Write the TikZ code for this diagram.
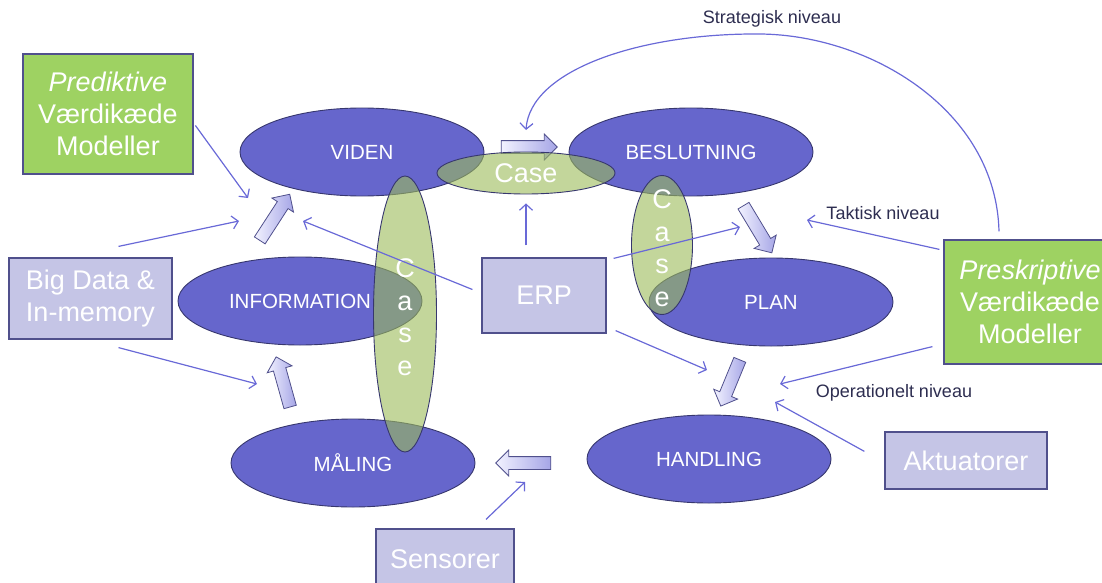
\documentclass[tikz,border=0pt]{standalone}
\usepackage{fontspec}
\setmainfont{Liberation Sans}
\usepackage{tikz}
\usetikzlibrary{positioning,arrows.meta,shapes.geometric,shapes.arrows}

\definecolor{ovalblue}{RGB}{102,102,204}
\definecolor{ovalline}{RGB}{55,55,110}
\definecolor{caseolive}{RGB}{155,187,89}
\definecolor{modelgreen}{RGB}{158,210,98}
\definecolor{boxlila}{RGB}{197,197,230}
\definecolor{boxline}{RGB}{80,80,140}
\definecolor{thinblue}{RGB}{105,105,215}
\definecolor{levelgray}{RGB}{45,45,80}
\definecolor{arrowhead}{RGB}{165,165,230}
\definecolor{arrowtail}{RGB}{242,242,255}

\begin{document}
\begin{tikzpicture}[
		x=1pt,y=-1pt,
		oval/.style={ellipse,draw=ovalline,line width=0.9pt,fill=ovalblue,text=white,
			inner sep=0pt,minimum width=244pt,minimum height=88pt,font=\fontsize{20.5}{24}\selectfont},
		caseoval/.style={ellipse,draw=ovalline,line width=0.9pt,fill=caseolive,fill opacity=0.6,
			text opacity=1,text=white,inner sep=0pt,font=\fontsize{27}{32.5}\selectfont},
		casetext/.style={text=white,align=center,inner sep=0pt,font=\fontsize{27}{32.5}\selectfont},
		modelbox/.style={rectangle,draw=boxline,line width=1.2pt,fill=modelgreen,text=white,
			align=center,inner sep=0pt,font=\fontsize{27}{32}\selectfont},
		databox/.style={rectangle,draw=boxline,line width=1.2pt,fill=boxlila,text=white,
			align=center,inner sep=0pt,font=\fontsize{27}{32}\selectfont},
		blockarrow/.style={single arrow,draw=boxline,line width=0.8pt,inner xsep=0pt,inner ysep=6pt,
			minimum width=25pt,single arrow head extend=6.5pt,single arrow tip angle=90,
			left color=arrowtail,right color=arrowhead},
		thinarrow/.style={thinblue,line width=1.2pt,-{Straight Barb[length=6pt,width=13pt]}},
		level/.style={text=levelgray,font=\fontsize{18}{21}\selectfont}
		]
		
		\useasboundingbox (0,0) rectangle (1102,583);
		\clip (0,0) rectangle (1102,583);
		
		\node[oval] (viden) at (362,152) {VIDEN};
		\node[oval] (beslutning) at (691,152) {BESLUTNING};
		\node[oval] (information) at (300,301) {INFORMATION};
		\node[oval] (plan) at (771,302) {PLAN};
		\node[oval] (maaling) at (353,463) {MÅLING};
		\node[oval] (handling) at (709,459) {HANDLING};
		
		\node[blockarrow,minimum height=56pt] (arrVB) at (526,147) {};
		\node[blockarrow,minimum height=55pt,rotate=57] (arrIV) at (273,220) {};
		\node[blockarrow,minimum height=52pt,rotate=105.6] (arrMI) at (284,385) {};
		\node[blockarrow,minimum height=55pt,rotate=-59] (arrBP) at (756,226.5) {};
		\node[blockarrow,minimum height=50pt,rotate=-112.4] (arrPH) at (731.5,380) {};
		\node[blockarrow,minimum height=55pt,rotate=180] (arrHM) at (526.5,463) {};
		
		\node[
		caseoval,
		minimum width=178pt,
		minimum height=42pt
		]
		(caseTop)
		at (526,173)
		{Case};
		
		\node[
		caseoval,
		minimum width=63pt,
		minimum height=276pt
		]
		(caseLeft)
		at (405,314)
		{};
		
		\node[
		caseoval,
		minimum width=61pt,
		minimum height=139pt
		]
		(caseRight)
		at (662,245)
		{};
		
		\node[casetext] (caseLeftTxt) at (405,317) {C\\a\\s\\e};
		\node[casetext] (caseRightTxt) at (662,248) {C\\a\\s\\e};
		
		\node[
		modelbox,
		minimum width=170pt,
		minimum height=120pt
		]
		(prediktiv)
		at (108,114)
		{\textit{Prediktive}\\Værdikæde\\Modeller};
		
		\node[
		modelbox,
		minimum width=172pt,
		minimum height=124pt
		]
		(preskriptiv)
		at (1030,302)
		{\textit{Preskriptive}\\Værdikæde\\Modeller};
		
		\node[databox,minimum width=163pt,minimum height=81pt] (bigdata) at (90.5,298.5) {Big Data \&\\In-memory};
		\node[databox,minimum width=124pt,minimum height=75pt] (erp) at (544,295.5) {ERP};
		\node[databox,minimum width=138pt,minimum height=61pt] (sensorer) at (445,559.5) {Sensorer};
		\node[databox,minimum width=162pt,minimum height=57pt] (aktuatorer) at (966,460.5) {Aktuatorer};
		
		\coordinate (toViden1) at (248,198);
		\coordinate (toViden2) at (239,221);
		\coordinate (toViden3) at (303,221);
		\coordinate (toInfo) at (257,384);
		\coordinate (toPlan1) at (740,227);
		\coordinate (toPlan2) at (807,220);
		\coordinate (toHand1) at (707,370);
		\coordinate (toHand2) at (780,384);
		\coordinate (toHand3) at (775,402);
		\coordinate (toMaal) at (525,482);
		\coordinate (toStrat) at (526,130);
		
		\draw[thinarrow,shorten <=3pt] (prediktiv.-6) -- (toViden1);
		\draw[thinarrow] ([xshift=28pt,yshift=11pt]bigdata.north) -- (toViden2);
		\draw[thinarrow] ([xshift=28pt,yshift=-8pt]bigdata.south) -- (toInfo);
		\draw[thinarrow] ([xshift=-9pt,yshift=6pt]erp.west) -- (toViden3);
		\draw[thinarrow,shorten <=12pt,shorten >=9pt] ([xshift=-18pt]erp.north) -- (caseTop.south);
		\draw[thinarrow] ([xshift=7pt,yshift=-1pt]erp.north east) -- (toPlan1);
		\draw[thinarrow] ([xshift=9pt,yshift=3pt]erp.south east) -- (toHand1);
		\draw[thinarrow] ([xshift=-4pt,yshift=-10pt]preskriptiv.north west) -- (toPlan2);
		\draw[thinarrow] ([xshift=-11pt,yshift=18pt]preskriptiv.south west) -- (toHand2);
		\draw[thinarrow] ([xshift=-20pt,yshift=-20pt]aktuatorer.north west) -- (toHand3);
		\draw[thinarrow] ([xshift=41pt,yshift=9pt]sensorer.north) -- (toMaal);
		\draw[thinarrow] ([xshift=-31pt,yshift=8pt]preskriptiv.north)
		.. controls (996,110) and (870,35) .. (760,34)
		.. controls (640,33) and (530,70) .. (toStrat);
		
		\node[level] (strat) at (772,19) {Strategisk niveau};
		\node[level] (takt) at (883,213) {Taktisk niveau};
		\node[level] (oper) at (894,393) {Operationelt niveau};
		
	\end{tikzpicture}
\end{document}
